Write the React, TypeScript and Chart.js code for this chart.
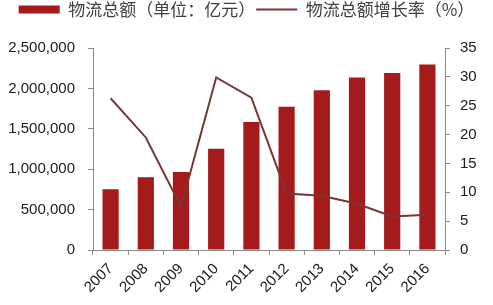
import React, { useEffect, useRef } from "react";
import { Chart, registerables } from "chart.js";

Chart.register(...registerables);

const years = ["2007", "2008", "2009", "2010", "2011", "2012", "2013", "2014", "2015", "2016"];
const totalValues = [752000, 899000, 966500, 1254000, 1584000, 1773000, 1978000, 2135000, 2192000, 2297000];
const growthRates = [26.3, 19.5, 7.5, 29.9, 26.4, 9.8, 9.4, 8.0, 5.8, 6.1];
const leftTicks = [0, 500000, 1000000, 1500000, 2000000, 2500000];
const rightTicks = [0, 5, 10, 15, 20, 25, 30, 35];

const BAR_COLOR = "#A51A1A";
const LINE_COLOR = "#7E3434";
const AXIS_COLOR = "#8C8C8C";
const TEXT_COLOR = "#404040";

const legendSpace = {
  id: "legendSpace",
  beforeLayout(chart: any) {
    const lg = chart.legend;
    if (lg && !lg._patched) {
      const orig = lg.fit.bind(lg);
      lg.fit = function () {
        orig();
        this.height = 48;
      };
      lg._patched = true;
    }
  },
};

export default function App() {
  const ref = useRef<HTMLCanvasElement | null>(null);

  useEffect(() => {
    document.body.style.margin = "0";
    const canvas = ref.current;
    if (!canvas) return;
    const chart = new Chart(canvas, {
      type: "bar",
      data: {
        labels: years,
        datasets: [
          {
            type: "bar",
            label: "物流总额（单位：亿元）",
            data: totalValues,
            backgroundColor: BAR_COLOR,
            yAxisID: "y",
            categoryPercentage: 1,
            barPercentage: 0.46,
            order: 2,
          },
          {
            type: "line",
            label: "物流总额增长率（%）",
            data: growthRates,
            borderColor: LINE_COLOR,
            backgroundColor: LINE_COLOR,
            borderWidth: 2,
            pointRadius: 0,
            tension: 0,
            yAxisID: "y1",
            order: 1,
          },
        ],
      },
      plugins: [legendSpace],
      options: {
        responsive: false,
        animation: false,
        layout: { padding: 0 },
        plugins: {
          tooltip: { enabled: false },
          legend: {
            display: true,
            position: "top",
            labels: {
              usePointStyle: true,
              pointStyleWidth: 41,
              boxHeight: 8,
              padding: 1,
              color: TEXT_COLOR,
              font: { family: "'Noto Sans CJK SC', sans-serif", size: 17 },
              generateLabels: (c: any) =>
                c.data.datasets.map((ds: any, i: number) => ({
                  text: ds.label,
                  fillStyle: i === 0 ? BAR_COLOR : "rgba(0,0,0,0)",
                  strokeStyle: i === 0 ? BAR_COLOR : LINE_COLOR,
                  lineWidth: i === 0 ? 0 : 2,
                  pointStyle: i === 0 ? "rect" : "line",
                  fontColor: TEXT_COLOR,
                  hidden: false,
                  datasetIndex: i,
                })),
            },
          },
        },
        scales: {
          x: {
            offset: true,
            grid: { display: true, drawOnChartArea: false, drawTicks: true, tickLength: 5, color: AXIS_COLOR, offset: true },
            border: { display: true, color: AXIS_COLOR },
            ticks: {
              color: "#202020",
              font: { family: "'Liberation Sans', Arial, sans-serif", size: 15 },
              minRotation: 45,
              maxRotation: 45,
              padding: 5,
            },
            afterFit: (s: any) => {
              s.height = 55;
            },
          },
          y: {
            position: "left",
            min: 0,
            max: 2500000,
            afterBuildTicks: (s: any) => {
              s.ticks = leftTicks.map((v) => ({ value: v }));
            },
            grid: { display: true, drawOnChartArea: false, drawTicks: true, tickLength: 5, color: AXIS_COLOR },
            border: { display: true, color: AXIS_COLOR },
            ticks: {
              color: "#202020",
              padding: 13,
              font: { family: "'Liberation Sans', Arial, sans-serif", size: 15 },
              callback: (v: any) => Number(v).toLocaleString("en-US"),
            },
            afterFit: (s: any) => {
              s.width = 93;
            },
          },
          y1: {
            position: "right",
            min: 0,
            max: 35,
            afterBuildTicks: (s: any) => {
              s.ticks = rightTicks.map((v) => ({ value: v }));
            },
            grid: { display: true, drawOnChartArea: false, drawTicks: true, tickLength: 5, color: AXIS_COLOR },
            border: { display: true, color: AXIS_COLOR },
            ticks: {
              color: "#202020",
              padding: 10,
              font: { family: "'Liberation Sans', Arial, sans-serif", size: 15 },
            },
            afterFit: (s: any) => {
              s.width = 48;
            },
          },
        },
      },
    });
    return () => chart.destroy();
  }, []);

  return (
    <div style={{ width: 493, height: 305, background: "#fff" }}>
      <canvas ref={ref} width={493} height={305} style={{ display: "block" }} />
    </div>
  );
}
